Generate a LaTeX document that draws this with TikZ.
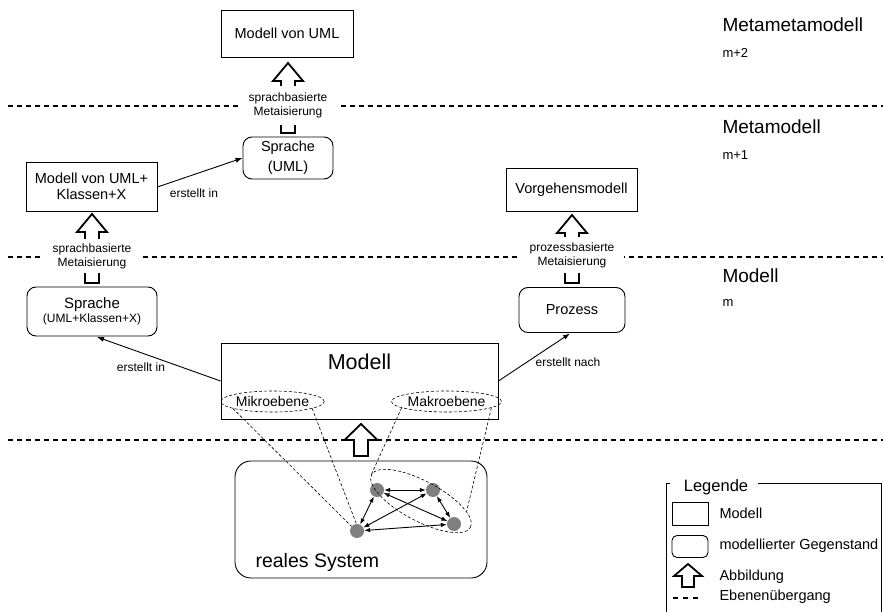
\documentclass[tikz,border=0pt]{standalone}
\usepackage{fontspec}
\setmainfont{Liberation Sans}
\usetikzlibrary{shapes.geometric,arrows.meta}

\definecolor{dotgray}{RGB}{128,128,128}
\newcommand\fsz[2]{\fontsize{#1}{#2}\selectfont}
% hollow block arrow: centre x, tip y, head base y, shaft bottom y, head half width, shaft half width
\newcommand\hollowarrow[6]{%
  \draw[hollow] (#1,#2) -- (#1+#5,#3) -- (#1+#6,#3) -- (#1+#6,#4)
    -- (#1-#6,#4) -- (#1-#6,#3) -- (#1-#5,#3) -- cycle;}

\begin{document}
\begin{tikzpicture}[x=1pt,y=-1pt,
  model/.style={draw, line width=0.9pt, inner sep=0pt, align=center},
  thing/.style={model, rounded corners=9pt},
  levelline/.style={line width=1.4pt, dash pattern=on 5pt off 4pt},
  fine/.style={line width=0.6pt, dash pattern=on 3pt off 2pt},
  hollow/.style={draw, fill=white, line width=1.8pt, line join=miter},
  meta/.style={fill=white, align=center, inner sep=0pt, font=\fsz{12}{14}},
  uses/.style={line width=0.9pt, -{Latex[length=7pt,width=5pt]}},
  relation/.style={line width=0.9pt, {Latex[length=6pt,width=4.5pt]}-{Latex[length=6pt,width=4.5pt]}},
  dot/.style={circle, fill=dotgray, minimum size=14pt, inner sep=0pt},
  small/.style={font=\fsz{12}{14}},
  head/.style={anchor=west, font=\fsz{19}{22}},
  sub/.style={anchor=west, font=\fsz{13}{15}},
  legtext/.style={anchor=west, font=\fsz{14.5}{17}}
]
\useasboundingbox (0,0) rectangle (883,612);
\clip (0,0) rectangle (883,612);

% level separators
\draw[levelline] (8,106) -- (883,106);
\draw[levelline] (8,257) -- (883,257);
\draw[levelline] (8,440) -- (883,440);

% level names
\node[head] (hMM) at (719,25) {Metametamodell};
\node[sub] (sMM) at (719,53) {m+2};
\node[head] (hM) at (719,127) {Metamodell};
\node[sub] (sM) at (719,155) {m+1};
\node[head] (hMo) at (719,276) {Modell};
\node[sub] (sMo) at (719,303) {m};

% boxes
\node[model, minimum width=132pt, minimum height=47pt, font=\fsz{14.5}{17}] (muml) at (287,33.5) {Modell von UML};
\node[thing, minimum width=90pt, minimum height=42pt, font=\fsz{14.5}{20}] (sprU) at (288,158) {Sprache\\(UML)};
\node[model, minimum width=131pt, minimum height=49pt, font=\fsz{14.5}{15.5}] (mumlk) at (91.5,186.5) {Modell von UML+\\Klassen+X};
\node[model, minimum width=131pt, minimum height=43pt, font=\fsz{14.5}{17}] (vgm) at (571.5,190) {Vorgehensmodell};
\node[thing, minimum width=130pt, minimum height=49pt] (sprK) at (92,311.5) {\fsz{15}{16}Sprache\\[2pt]\fsz{12}{14}(UML+Klassen+X)};
\node[thing, minimum width=106pt, minimum height=45pt, font=\fsz{14.5}{17}] (proz) at (572,310) {Prozess};
\node[model, minimum width=277pt, minimum height=76pt] (modell) at (359.5,381) {};
\node[font=\fsz{21.5}{24}] (modelltitle) at (359.5,362) {Modell};
\node[ellipse, draw, fine, minimum width=91pt, minimum height=21pt, inner sep=0pt, font=\fsz{14}{16}] (mikro) at (272.5,401.5) {Mikroebene};
\node[ellipse, draw, fine, minimum width=93pt, minimum height=21pt, inner sep=0pt, font=\fsz{14}{16}] (makro) at (446.5,401.5) {Makroebene};
\node[thing, rounded corners=16pt, minimum width=252pt, minimum height=117pt] (real) at (361,519.5) {};
\node[anchor=west, font=\fsz{19.5}{22}] (realtitle) at (252,562) {reales System};

% elements of the real system
\node[dot] (nA) at (377,490) {};
\node[dot] (nB) at (433,490) {};
\node[dot] (nC) at (454,524) {};
\node[dot] (nD) at (357,531) {};
\node[ellipse, draw, fine, minimum width=112pt, minimum height=40pt, inner sep=0pt, rotate=-28] (abc) at (421,501) {};
\draw[relation] (nA) -- (nB);
\draw[relation] (nA) -- (nD);
\draw[relation] (nA) -- (nC);
\draw[relation] (nB) -- (nD);
\draw[relation] (nB) -- (nC);
\draw[relation] (nD) -- (nC);

% level projections
\draw[fine] (mikro.190) -- (nD.140);
\draw[fine] (mikro.-10) -- (nD.95);
\draw[fine] (makro.188) -- (abc.west);
\draw[fine] (makro.-8) -- (abc.15);

% meta relations
\hollowarrow{288}{63}{81}{133}{15}{7}
\node[meta, minimum width=98pt, minimum height=39pt] (lab1) at (288,105.5) {sprachbasierte\\Metaisierung};
\hollowarrow{92}{214}{232}{283}{15}{7}
\node[meta, minimum width=97pt, minimum height=34pt] (lab2) at (92,256.5) {sprachbasierte\\Metaisierung};
\hollowarrow{572}{215}{233}{283}{15}{7}
\node[meta, minimum width=104pt, minimum height=36pt] (lab3) at (572,255.5) {prozessbasierte\\Metaisierung};
\hollowarrow{361}{424}{440}{456}{16.5}{7}

% "created in / according to" relations
\draw[uses] (mumlk.east |- 0,187) -- (sprU.west |- 0,158);
\node[small] (erst1) at (194,193) {erstellt in};
\draw[uses] (modell.west) -- (97,337);
\node[small] (erst2) at (141,367) {erstellt in};
\draw[uses] (modell.east) -- (570,333.5);
\node[small] (erst3) at (568,362) {erstellt nach};

% legend
\node[font=\fsz{16.5}{19}] (legtitle) at (716,487) {Legende};
\draw[line width=0.9pt] (670,483) -- (666,483) -- (666,616);
\draw[line width=0.9pt] (758,483) -- (881,483) -- (881,616);
\node[model, minimum width=36pt, minimum height=23pt] (legM) at (690,513.5) {};
\node[legtext] (legMt) at (716,513) {Modell};
\node[thing, rounded corners=5pt, minimum width=36pt, minimum height=22pt] (legG) at (690,546.5) {};
\node[legtext] (legGt) at (716,546) {modellierter Gegenstand};
\hollowarrow{688}{564}{576}{587}{14}{6}
\node[legtext] (legAt) at (716,577) {Abbildung};
\coordinate (legD1) at (673,598);
\coordinate (legD2) at (702,598);
\draw[line width=1.1pt, dash pattern=on 5pt off 5pt] (legD1) -- (legD2);
\node[legtext] (legDt) at (716,597) {Ebenenübergang};
\end{tikzpicture}
\end{document}
